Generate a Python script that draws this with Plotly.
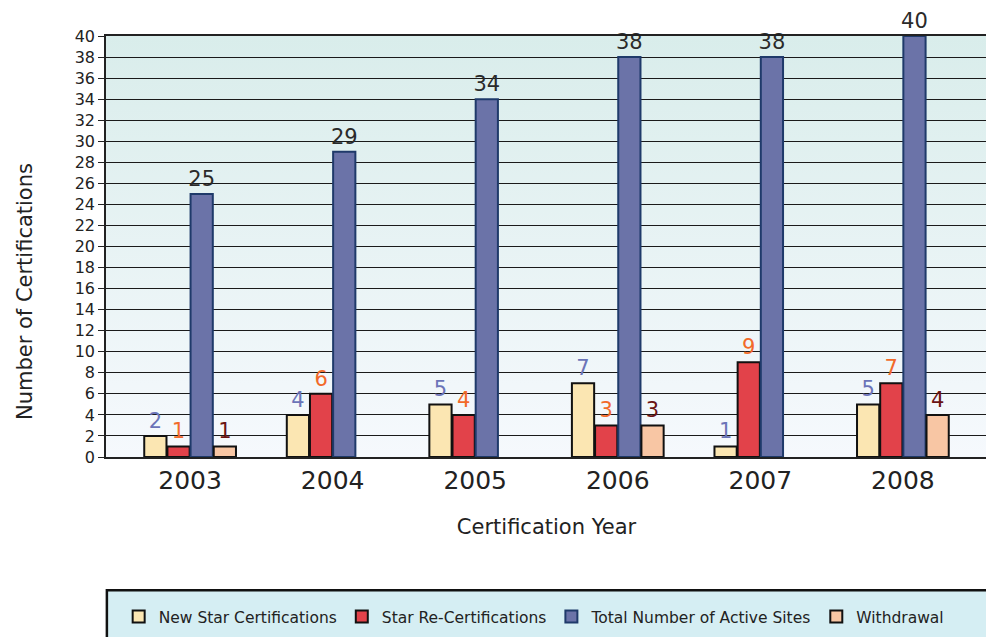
import base64
import plotly.graph_objects as go

years = ["2003", "2004", "2005", "2006", "2007", "2008"]
new_star = [2, 4, 5, 7, 1, 5]
re_cert = [1, 6, 4, 3, 9, 7]
total_active = [25, 29, 34, 38, 38, 40]
withdrawal = [1, None, None, 3, None, 4]
y_ticks = list(range(0, 41, 2))

FONT = "DejaVu Sans, Verdana, sans-serif"

series = [
    ("New Star Certifications", new_star, "#fbe6b2", "#111111", "#6b74b8"),
    ("Star Re-Certifications", re_cert, "#e2424a", "#111111", "#f26a2a"),
    ("Total Number of Active Sites", total_active, "#6b73a8", "#1f3a6a", "#2a2a2a"),
    ("Withdrawal", withdrawal, "#f8c6a4", "#111111", "#6b1414"),
]

fig = go.Figure()
for name, vals, fill, line, tcol in series:
    fig.add_trace(go.Bar(
        x=years, y=vals, name=name,
        marker=dict(color=fill, line=dict(color=line, width=2)),
        text=[("" if v is None else str(v)) for v in vals],
        textposition="outside", cliponaxis=False, constraintext="none",
        textfont=dict(family=FONT, size=21, color=tcol),
    ))

svg = ('<svg xmlns="http://www.w3.org/2000/svg" width="10" height="100" preserveAspectRatio="none">'
       '<defs><linearGradient id="g" x1="0" y1="0" x2="0" y2="1">'
       '<stop offset="0" stop-color="#d9edeb"/><stop offset="1" stop-color="#f6f9fd"/>'
       '</linearGradient></defs><rect width="10" height="100" fill="url(#g)"/></svg>')
src = "data:image/svg+xml;base64," + base64.b64encode(svg.encode()).decode()

fig.update_layout(
    width=986, height=629,
    margin=dict(l=98, r=7, t=28, b=180, autoexpand=False),
    paper_bgcolor="white", plot_bgcolor="rgba(0,0,0,0)",
    barmode="group", bargap=0.35, bargroupgap=0.04,
    font=dict(family=FONT, color="#222222"),
    images=[dict(source=src, xref="paper", yref="paper", x=0, y=1, sizex=1, sizey=1,
                 sizing="stretch", layer="below", xanchor="left", yanchor="top")],
    xaxis=dict(type="category", range=[-0.59, 5.59], showgrid=False, automargin=False,
               showline=True, linecolor="#222222", linewidth=1.5, mirror=True,
               ticks="", tickfont=dict(size=25, color="#222222"),
               title=dict(text="Certification Year", font=dict(size=21, color="#222222"), standoff=26)),
    yaxis=dict(range=[0, 40], tickvals=y_ticks, showgrid=True, gridcolor="#1a1a1a", gridwidth=1.4,
               automargin=False,
               showline=True, linecolor="#222222", linewidth=1.5, mirror=True,
               ticks="outside", ticklen=6, tickcolor="#222222",
               tickfont=dict(size=16, color="#222222"), zeroline=False),
    legend=dict(orientation="h", x=0.486, xanchor="center", y=-0.38, yanchor="middle",
                bgcolor="rgba(0,0,0,0)", font=dict(family=FONT, size=15.5, color="#222222"),
                itemwidth=30, traceorder="normal"),
    shapes=[dict(type="rect", xref="paper", yref="paper", x0=0.001, x1=1.0034, y0=-0.47, y1=-0.3167,
                 fillcolor="#d5eef3", line=dict(color="#111111", width=2.5), layer="below")],
    annotations=[dict(text="Number of Certifications", textangle=-90, xref="paper", yref="paper",
                      x=-0.092, y=0.394, xanchor="center", yanchor="middle", showarrow=False,
                      font=dict(size=21, color="#222222"))],
)

fig.write_html("out.html")
